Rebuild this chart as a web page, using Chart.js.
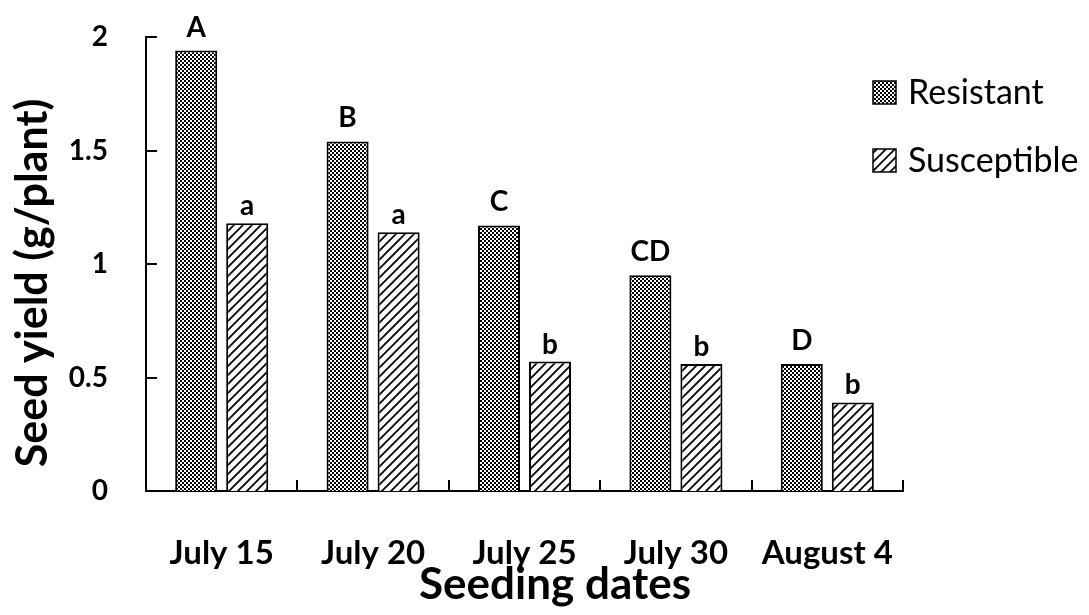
<!DOCTYPE html>
<html>
<head>
<meta charset="utf-8">
<script src="https://cdn.jsdelivr.net/npm/chart.js@4.4.1/dist/chart.umd.min.js"></script>
<style>
  html, body { margin: 0; padding: 0; background: #fff; }
  #wrap { width: 1089px; height: 615px; }
</style>
</head>
<body>
<div id="wrap"><canvas id="c" width="1089" height="615"></canvas></div>
<script>
// ---- data ----
const categories = ['July 15', 'July 20', 'July 25', 'July 30', 'August 4'];
const resistant = [1.94, 1.54, 1.17, 0.95, 0.56];
const susceptible = [1.18, 1.14, 0.57, 0.56, 0.39];
const resistantLetters = ['A', 'B', 'C', 'CD', 'D'];
const susceptibleLetters = ['a', 'a', 'b', 'b', 'b'];
const seriesNames = ['Resistant', 'Susceptible'];
const yTicks = [0, 0.5, 1, 1.5, 2];
const yTitle = 'Seed yield (g/plant)';
const xTitle = 'Seeding dates';

const FONT = 'Lato, "Open Sans", sans-serif';

// ---- patterns ----
function checkerPattern() {
  const c = document.createElement('canvas');
  c.width = 4; c.height = 4;
  const g = c.getContext('2d');
  g.fillStyle = '#fff'; g.fillRect(0, 0, 4, 4);
  g.fillStyle = '#000';
  g.fillRect(0, 0, 2, 2);
  g.fillRect(2, 2, 2, 2);
  return g.createPattern(c, 'repeat');
}
function diagPattern() {
  const s = 9;
  const c = document.createElement('canvas');
  c.width = s; c.height = s;
  const g = c.getContext('2d');
  g.fillStyle = '#fff'; g.fillRect(0, 0, s, s);
  g.strokeStyle = '#000';
  g.lineWidth = 1.8;
  g.beginPath();
  g.moveTo(-1, s + 1); g.lineTo(s + 1, -1);
  g.moveTo(-1, 1); g.lineTo(1, -1);
  g.moveTo(s - 1, s + 1); g.lineTo(s + 1, s - 1);
  g.stroke();
  return g.createPattern(c, 'repeat');
}
const patR = checkerPattern();
const patS = diagPattern();

// ---- plugins ----
const letterPlugin = {
  id: 'letters',
  afterDatasetsDraw(chart) {
    const ctx = chart.ctx;
    const sets = [resistantLetters, susceptibleLetters];
    const gaps = [14, 8];
    ctx.save();
    ctx.fillStyle = '#000';
    ctx.font = 'bold 28px ' + FONT;
    ctx.textAlign = 'center';
    ctx.textBaseline = 'alphabetic';
    chart.data.datasets.forEach((ds, di) => {
      const meta = chart.getDatasetMeta(di);
      meta.data.forEach((el, i) => {
        ctx.fillText(sets[di][i], el.x, el.y - gaps[di]);
      });
    });
    ctx.restore();
  }
};

const innerTicksPlugin = {
  id: 'innerTicks',
  afterDraw(chart) {
    const ctx = chart.ctx;
    const ys = chart.scales.y, xs = chart.scales.x;
    const area = chart.chartArea;
    ctx.save();
    ctx.strokeStyle = '#000';
    ctx.lineWidth = 2;
    ctx.beginPath();
    ys.ticks.forEach((t, i) => {
      const py = Math.round(ys.getPixelForTick(i));
      ctx.moveTo(area.left, py);
      ctx.lineTo(area.left + 11, py);
    });
    const n = categories.length;
    const half = (xs.getPixelForValue(1) - xs.getPixelForValue(0)) / 2;
    for (let i = 0; i <= n; i++) {
      const px = Math.round(i < n ? xs.getPixelForValue(i) - half : xs.getPixelForValue(n - 1) + half);
      ctx.moveTo(px, area.bottom);
      ctx.lineTo(px, area.bottom - 11);
    }
    ctx.stroke();
    ctx.restore();
  }
};

const titlesPlugin = {
  id: 'axisTitles',
  afterDraw(chart) {
    const ctx = chart.ctx;
    ctx.save();
    ctx.fillStyle = '#000';
    ctx.textAlign = 'center';
    ctx.textBaseline = 'middle';
    ctx.font = 'bold 44px ' + FONT;
    ctx.fillText(xTitle, 555, 585);
    ctx.translate(33, 283);
    ctx.rotate(-Math.PI / 2);
    ctx.font = 'bold 43px ' + FONT;
    ctx.fillText(yTitle, 0, 0);
    ctx.restore();
  }
};

const legendPlugin = {
  id: 'customLegend',
  afterDraw(chart) {
    const ctx = chart.ctx;
    const x0 = 873, ys = [92, 160];
    ctx.save();
    chart.data.datasets.forEach((ds, i) => {
      const y = ys[i];
      ctx.fillStyle = ds.backgroundColor;
      ctx.fillRect(x0, y - 11, 23, 23);
      ctx.strokeStyle = '#000';
      ctx.lineWidth = 1.5;
      ctx.strokeRect(x0, y - 11, 23, 23);
      ctx.fillStyle = '#000';
      ctx.font = '34px ' + FONT;
      ctx.textAlign = 'left';
      ctx.textBaseline = 'middle';
      ctx.fillText(ds.label, 908, y + 1);
    });
    ctx.restore();
  }
};

Chart.defaults.color = '#000';
Chart.defaults.font.family = FONT;

new Chart(document.getElementById('c'), {
  type: 'bar',
  data: {
    labels: categories,
    datasets: [
      { label: seriesNames[0], data: resistant, backgroundColor: patR, borderColor: '#000', borderWidth: 2 },
      { label: seriesNames[1], data: susceptible, backgroundColor: patS, borderColor: '#000', borderWidth: 2 }
    ]
  },
  options: {
    responsive: false,
    animation: false,
    categoryPercentage: 0.674,
    barPercentage: 0.824,
    layout: { padding: { top: 37, right: 186, left: 0, bottom: 0 } },
    plugins: {
      legend: { display: false },
      tooltip: { enabled: false }
    },
    scales: {
      x: {
        grid: { display: false, drawTicks: false },
        border: { display: true, color: '#000', width: 2 },
        ticks: { font: { size: 33, weight: 'bold' }, padding: 43, maxRotation: 0 },
        title: { display: false },
        afterFit(s) { s.height = 124; s.paddingLeft = 0; s.paddingRight = 0; }
      },
      y: {
        min: 0, max: 2,
        afterBuildTicks(s) { s.ticks = yTicks.map(v => ({ value: v })); },
        grid: { display: false, drawTicks: false },
        border: { display: true, color: '#000', width: 2 },
        ticks: { font: { size: 28, weight: 'bold' }, padding: 38, callback: (v) => String(v) },
        title: { display: false },
        afterFit(s) { s.width = 146; s.paddingTop = 0; s.paddingBottom = 0; }
      }
    }
  },
  plugins: [letterPlugin, innerTicksPlugin, titlesPlugin, legendPlugin]
});
</script>
</body>
</html>
